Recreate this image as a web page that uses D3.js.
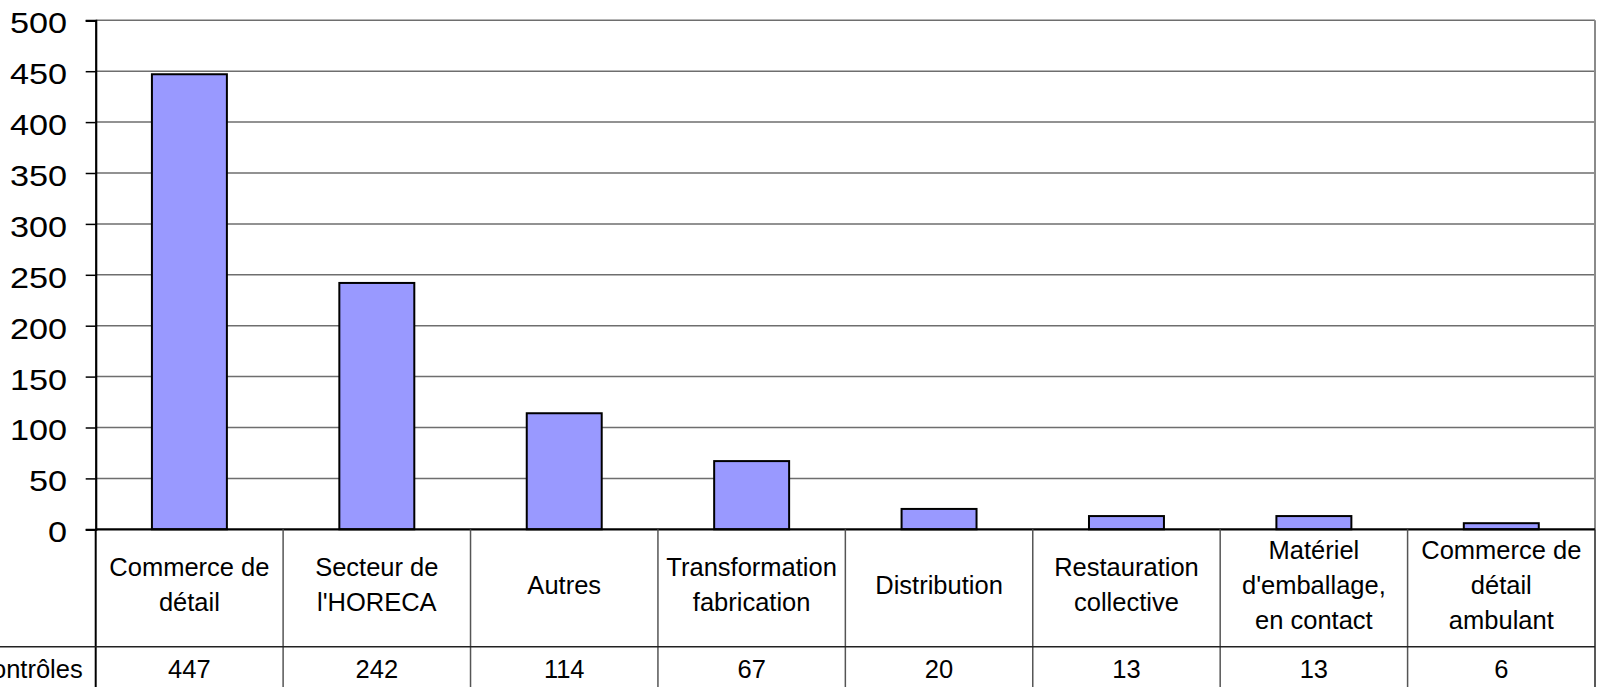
<!DOCTYPE html>
<html>
<head>
<meta charset="utf-8">
<script src="https://cdn.jsdelivr.net/npm/d3@7"></script>
<style>
  body { margin: 0; background: #fff; overflow: hidden; }
  text { font-family: "Liberation Sans", Arial, sans-serif; fill: #000; }
</style>
</head>
<body>
<script>
const categories = [
  "Commerce de détail",
  "Secteur de l'HORECA",
  "Autres",
  "Transformation fabrication",
  "Distribution",
  "Restauration collective",
  "Matériel d'emballage, en contact",
  "Commerce de détail ambulant"
];
const controles = [447, 242, 114, 67, 20, 13, 13, 6];
const seriesName = "Nombre de contrôles";
const yTicks = [0, 50, 100, 150, 200, 250, 300, 350, 400, 450, 500];

const W = 1597, H = 687;
const margin = {top: 20.3, right: 2, bottom: 158, left: 95.7};
const width = W - margin.left - margin.right;
const height = 529.3 - margin.top;

const svg = d3.select("body").append("svg")
  .attr("width", W)
  .attr("height", H);

const g = svg.append("g")
  .attr("transform", `translate(${margin.left},${margin.top})`);

const xScale = d3.scaleBand()
  .domain(categories)
  .range([0, width])
  .paddingInner(0.6)
  .paddingOuter(0.3);

const colScale = d3.scaleBand()
  .domain(categories)
  .range([0, width]);

const yScale = d3.scaleLinear()
  .domain([0, 500])
  .range([height, 0]);

// gridlines
g.selectAll(".grid")
  .data(yTicks.filter(d => d > 0))
  .enter().append("line")
  .attr("x1", 0).attr("x2", width)
  .attr("y1", d => yScale(d)).attr("y2", d => yScale(d))
  .attr("stroke", "#6e6e6e")
  .attr("stroke-width", 1.5);

// right border of plot
g.append("line")
  .attr("x1", width).attr("x2", width)
  .attr("y1", 0).attr("y2", height)
  .attr("stroke", "#8a8a8a").attr("stroke-width", 2);

// bars
g.selectAll(".bar")
  .data(controles)
  .enter().append("rect")
  .attr("x", (d, i) => xScale(categories[i]))
  .attr("y", d => yScale(d))
  .attr("width", xScale.bandwidth())
  .attr("height", d => height - yScale(d))
  .attr("fill", "#9999ff")
  .attr("stroke", "#000")
  .attr("stroke-width", 2);

// y axis
const sx = 1.18;
const yAxis = d3.axisLeft(yScale).tickValues(yTicks).tickSize(10);
const yg = g.append("g").call(yAxis);
yg.select(".domain").attr("stroke", "#000").attr("stroke-width", 2.2);
yg.selectAll(".tick line").attr("stroke", "#000").attr("stroke-width", 1.5);
yg.selectAll(".tick text")
  .style("font-size", "29px")
  .attr("x", -28.7 / sx)
  .attr("transform", `scale(${sx},1)`)
  .attr("dy", "0.43em");

// x axis line
g.append("line")
  .attr("x1", 0).attr("x2", width)
  .attr("y1", height).attr("y2", height)
  .attr("stroke", "#000").attr("stroke-width", 2.2);

// data table
const headH = 117.4;
const rowH = 50;
const tg = g.append("g").attr("transform", `translate(0,${height})`);

tg.selectAll(".vline")
  .data(categories.slice(1))
  .enter().append("line")
  .attr("x1", d => colScale(d)).attr("x2", d => colScale(d))
  .attr("y1", 0).attr("y2", headH + rowH)
  .attr("stroke", "#555").attr("stroke-width", 1.5);

tg.append("line")
  .attr("x1", 0).attr("x2", 0)
  .attr("y1", 0).attr("y2", headH + rowH)
  .attr("stroke", "#000").attr("stroke-width", 2);

tg.append("line")
  .attr("x1", width).attr("x2", width)
  .attr("y1", 0).attr("y2", headH + rowH)
  .attr("stroke", "#222").attr("stroke-width", 1.5);

tg.append("line")
  .attr("x1", -margin.left).attr("x2", width)
  .attr("y1", headH).attr("y2", headH)
  .attr("stroke", "#222").attr("stroke-width", 1.5);

const fs = 25.5;
const lineH = 35;
const maxW = 172;

function wrapLines(label) {
  const words = label.split(" ");
  const tmp = svg.append("text").style("font-size", fs + "px");
  const lines = [];
  let cur = "";
  words.forEach(w => {
    const test = cur ? cur + " " + w : w;
    tmp.text(test);
    if (tmp.node().getComputedTextLength() > maxW && cur) {
      lines.push(cur);
      cur = w;
    } else {
      cur = test;
    }
  });
  lines.push(cur);
  tmp.remove();
  return lines;
}

categories.forEach(c => {
  const lines = wrapLines(c);
  const cx = colScale(c) + colScale.bandwidth() / 2;
  const cy = headH / 2 - 3.5;
  const t = tg.append("text")
    .attr("text-anchor", "middle")
    .style("font-size", fs + "px");
  lines.forEach((l, i) => {
    t.append("tspan")
      .attr("x", cx)
      .attr("y", cy + (i - (lines.length - 1) / 2) * lineH)
      .attr("dy", "0.36em")
      .text(l);
  });
});

tg.selectAll(".val")
  .data(controles)
  .enter().append("text")
  .attr("x", (d, i) => colScale(categories[i]) + colScale.bandwidth() / 2)
  .attr("y", headH + 22)
  .attr("dy", "0.36em")
  .attr("text-anchor", "middle")
  .style("font-size", fs + "px")
  .text(d => d);

tg.append("text")
  .attr("x", -13)
  .attr("y", headH + 22)
  .attr("dy", "0.36em")
  .attr("text-anchor", "end")
  .style("font-size", fs + "px")
  .text(seriesName);
</script>
</body>
</html>
